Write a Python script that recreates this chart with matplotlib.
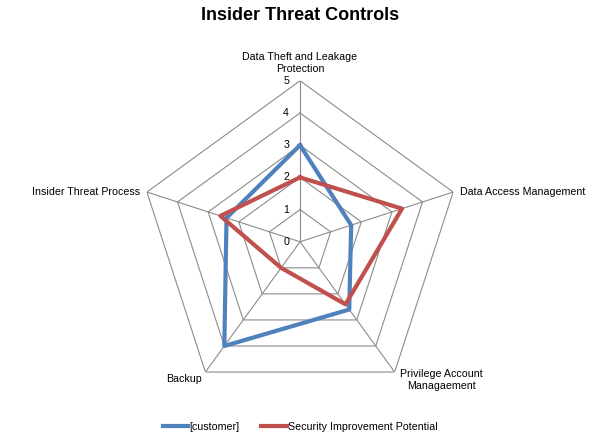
import numpy as np
import matplotlib
matplotlib.use("Agg")
import matplotlib.pyplot as plt

# chart data
categories = [
    "Data Theft and Leakage\nProtection",
    "Data Access Management",
    "Privilege Account\nManagaement",
    "Backup",
    "Insider Threat Process",
]
customer = [3.0, 1.67, 2.6, 4.0, 2.4]
improvement = [2.0, 3.33, 2.4, 1.0, 2.6]
levels = [0, 1, 2, 3, 4, 5]
series_names = ["[customer]", "Security Improvement Potential"]

BLUE = "#4F81BD"
RED = "#C0504D"
GRID = "#8c8c8c"

plt.rcParams["font.family"] = ["Liberation Sans", "DejaVu Sans"]

fig = plt.figure(figsize=(6, 4.48), dpi=100)
ax = fig.add_axes([0.2317, 0.1009, 0.5367, 0.7188], projection="polar")
ax.set_theta_offset(np.pi / 2)
ax.set_theta_direction(-1)
ax.set_ylim(0, levels[-1])
ax.grid(False)
ax.spines["polar"].set_visible(False)
ax.set_xticks([])
ax.set_yticks([])
ax.patch.set_alpha(0)

angles = np.linspace(0, 2 * np.pi, len(categories), endpoint=False)
closed = np.append(angles, angles[0])

# pentagon grid rings and spokes
for level in levels[1:]:
    ax.plot(closed, [level] * len(closed), color=GRID, lw=0.8, zorder=1)
for angle in angles:
    ax.plot([angle, angle], [0, levels[-1]], color=GRID, lw=0.8, zorder=1)

# data series
ax.plot(closed, customer + customer[:1], color=BLUE, lw=3.0, zorder=3, label=series_names[0])
ax.plot(closed, improvement + improvement[:1], color=RED, lw=3.0, zorder=4, label=series_names[1])

# radial value labels
for level in levels:
    ax.annotate(str(level), xy=(0, level), xytext=(-11, 0), textcoords="offset pixels",
                ha="right", va="center", fontsize=7.7, color="black")

# category labels
label_style = [
    dict(xytext=(0, 7), ha="center", va="bottom"),
    dict(xytext=(7, 0), ha="left", va="center"),
    dict(xytext=(5, -8), ha="left", va="center"),
    dict(xytext=(-4, -7), ha="right", va="center"),
    dict(xytext=(-7, 0), ha="right", va="center"),
]
for angle, name, style in zip(angles, categories, label_style):
    ax.annotate(name, xy=(angle, levels[-1]), textcoords="offset pixels",
                multialignment="center", fontsize=7.7, annotation_clip=False, **style)

fig.suptitle("Insider Threat Controls", y=0.985, fontsize=13, fontweight="bold")

fig.legend(loc="center", bbox_to_anchor=(0.5, 0.047), ncol=2, frameon=False,
           fontsize=7.7, handlelength=2.4, handletextpad=0.1, columnspacing=2.0)

fig.savefig("out.png", dpi=100)
